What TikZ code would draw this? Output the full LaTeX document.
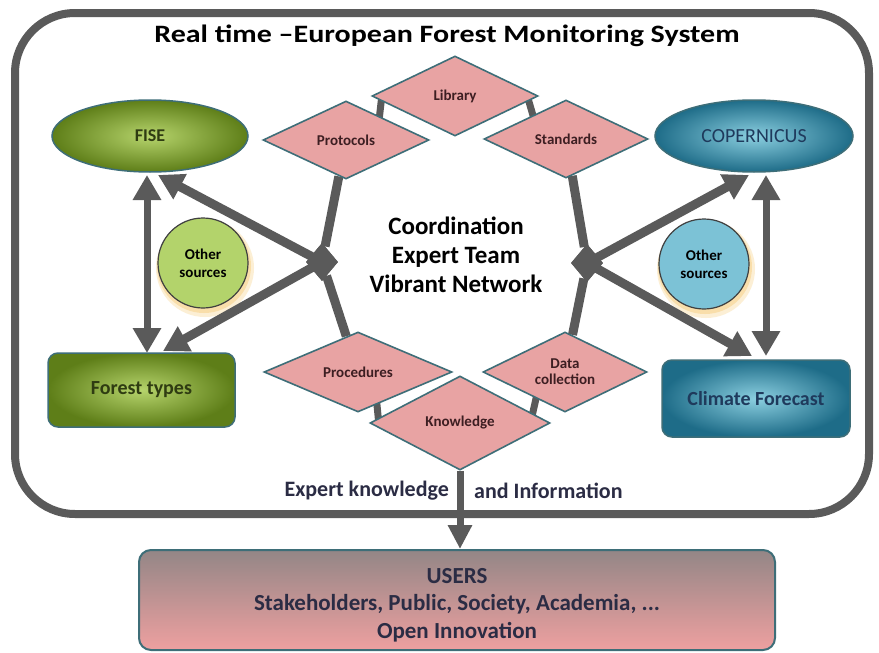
\documentclass[tikz,border=0pt]{standalone}
\usepackage{fontspec}
\setmainfont{Carlito}
\usetikzlibrary{shapes.geometric,arrows.meta,calc}
\definecolor{linegray}{HTML}{5A5A5A}
\definecolor{pinkfill}{HTML}{E8A3A3}
\definecolor{tealborder}{HTML}{3E6E78}
\definecolor{diamtext}{HTML}{3D1E22}
\definecolor{greenout}{HTML}{5E7E18}
\definecolor{greenin}{HTML}{B6D46C}
\definecolor{tealout}{HTML}{1E6C88}
\definecolor{tealin}{HTML}{8BCFE0}
\definecolor{greentext}{HTML}{2F3C12}
\definecolor{navytext}{HTML}{1F3A5C}
\definecolor{circgreen}{HTML}{B3D36B}
\definecolor{circblue}{HTML}{7CC2D6}
\definecolor{usertop}{HTML}{938686}
\definecolor{userbot}{HTML}{EEA0A0}
\definecolor{usertext}{HTML}{2B2C44}
\definecolor{glowcol}{HTML}{F5C15A}
\pgfdeclarelayer{bg}
\pgfdeclarelayer{back}
\pgfsetlayers{back,bg,main}
\begin{document}
\begin{tikzpicture}[x=1pt,y=-1pt,
  pinkd/.style={diamond, draw=tealborder, line width=1.6pt, fill=pinkfill, inner sep=0pt, aspect=2,
    font=\bfseries\fontsize{15}{16}\selectfont, text=diamtext, align=center},
  hubd/.style={diamond, fill=linegray, inner sep=0pt, minimum width=32pt, minimum height=38pt},
  octline/.style={draw=linegray, line width=9pt},
  stubline/.style={draw=linegray, line width=7pt, shorten <=-5pt, shorten >=-5pt},
  bigarrow/.style={draw=linegray, line width=9pt, -{Triangle[length=25pt,width=27pt]}},
  downarrow/.style={draw=linegray, line width=7pt, -{Triangle[length=24pt,width=23pt]}},
  dblarrow/.style={draw=linegray, line width=7pt, {Triangle[length=25pt,width=27pt]}-{Triangle[length=25pt,width=27pt]}},
  greenshape/.style={draw=tealborder, line width=1.5pt, inner color=greenin, outer color=greenout, text=greentext, inner sep=0pt},
  tealshape/.style={draw=tealborder, line width=1.5pt, inner color=tealin, outer color=tealout, text=navytext, inner sep=0pt},
  othercirc/.style={circle, draw=black!75, line width=1.2pt, inner sep=0pt, minimum size=90pt, align=center,
    font=\bfseries\fontsize{15}{18}\selectfont}
]
\begin{pgfonlayer}{back}
\useasboundingbox (0,0) rectangle (879,653);
\fill[white] (0,0) rectangle (879,653);
% outer frame
\draw[linegray, line width=8pt, rounded corners=60pt] (15,13) rectangle (869,514);
\end{pgfonlayer}

% title
\node[font=\bfseries\fontsize{25}{28}\selectfont] (title) at (447,36) {\scalebox{1.2}[1]{Real time –European Forest Monitoring System}};

% diamonds
\path
  (455,96)  node[pinkd, minimum width=166pt, minimum height=80pt] (lib) {Library}
  (346,140) node[pinkd, minimum width=166pt, minimum height=78pt] (proto) {Protocols}
  (566,139) node[pinkd, minimum width=164pt, minimum height=78pt] (stand) {Standards}
  (358,372) node[pinkd, minimum width=188pt, minimum height=80pt] (proc) {Procedures}
  (565,372) node[pinkd, minimum width=164pt, minimum height=80pt] (data) {Data\\collection}
  (460,423) node[pinkd, minimum width=180pt, minimum height=94pt] (know) {Knowledge};

\path (322,262) node[hubd] (hubL) {} (587,263) node[hubd] (hubR) {};

% center text
\node[font=\bfseries\fontsize{25}{29}\selectfont, align=center] (core) at (456,255) {Coordination\\Expert Team\\Vibrant Network};

% source nodes
\node[greenshape, ellipse, minimum width=196pt, minimum height=72pt, font=\bfseries\fontsize{18}{20}\selectfont] (fise) at (150,136) {FISE};
\node[greenshape, rectangle, rounded corners=10pt, minimum width=187pt, minimum height=74pt, font=\bfseries\fontsize{20}{22}\selectfont] (ft) at (141.5,390) {Forest types};
\node[tealshape, ellipse, minimum width=198pt, minimum height=72pt, font=\fontsize{20}{22}\selectfont] (cop) at (754,136) {COPERNICUS};
\node[tealshape, rectangle, rounded corners=10pt, minimum width=188pt, minimum height=77pt, font=\bfseries\fontsize{20}{22}\selectfont] (cf) at (756,398.5) {Climate Forecast};

% glows and other-sources circles
\begin{pgfonlayer}{bg}
\fill[glowcol, opacity=0.25] (205,268) circle (49pt);
\fill[glowcol, opacity=0.35] (204,266) circle (47pt);
\fill[glowcol, opacity=0.25] (706,269) circle (49pt);
\fill[glowcol, opacity=0.35] (705,267) circle (47pt);
\end{pgfonlayer}
\node[othercirc, fill=circgreen] (osL) at (203,263) {Other\\sources};
\node[othercirc, fill=circblue] (osR) at (704,264) {Other\\sources};

% users
\node[rectangle, rounded corners=12pt, draw=tealborder, line width=2pt, top color=usertop, bottom color=userbot,
  minimum width=636pt, minimum height=100pt] (users) at (457,600) {};
\node[text=usertext, align=center, font=\bfseries\fontsize{23}{27.5}\selectfont] (userstext) at (457,605)
  {USERS\\Stakeholders, Public, Society, Academia, ...\\Open Innovation};

% bottom labels
\node[anchor=east, text=usertext, font=\bfseries\fontsize{22}{24}\selectfont, inner sep=0pt] (ek) at (449,491) {Expert knowledge};
\node[anchor=west, text=usertext, font=\bfseries\fontsize{22}{24}\selectfont, inner sep=0pt] (ai) at (474,491) {and Information};

% arrow tip coordinates
\coordinate (fiseTipA) at (147,175);
\coordinate (ftTipA) at (147,353);
\coordinate (fiseTipB) at (158,175);
\coordinate (ftTipB) at (163,351);
\coordinate (copTipA) at (766,175);
\coordinate (cfTipA) at (766,356);
\coordinate (copTipB) at (749,175);
\coordinate (cfTipB) at (752,356);

% connectors behind diamonds
\begin{pgfonlayer}{bg}
\draw[octline] (proto) -- (hubL);
\draw[octline] (proc) -- (hubL);
\draw[octline] (stand) -- (hubR);
\draw[octline] (data) -- (hubR);
\draw[stubline] ($(lib.west)!0.12!(lib.south)$) -- ($(proto.north)!0.4!(proto.east)$);
\draw[stubline] ($(lib.east)!0.12!(lib.south)$) -- ($(stand.north)!0.4!(stand.west)$);
\draw[stubline] ($(proc.south)!0.2!(proc.east)$) -- ($(know.west)!0.1!(know.north)$);
\draw[stubline] ($(data.south)!0.35!(data.west)$) -- ($(know.east)!0.2!(know.north)$);
\end{pgfonlayer}

% arrows
\draw[bigarrow] (hubL.center) -- (fiseTipB);
\draw[bigarrow] (hubL.center) -- (ftTipB);
\draw[bigarrow] (hubR.center) -- (copTipB);
\draw[bigarrow] (hubR.center) -- (cfTipB);
\draw[dblarrow] (fiseTipA) -- (ftTipA);
\draw[dblarrow] (copTipA) -- (cfTipA);
\node[hubd] at (hubL) {};
\node[hubd] at (hubR) {};
\draw[downarrow] (know.south) -- (know.south |- users.north);
\end{tikzpicture}
\end{document}
